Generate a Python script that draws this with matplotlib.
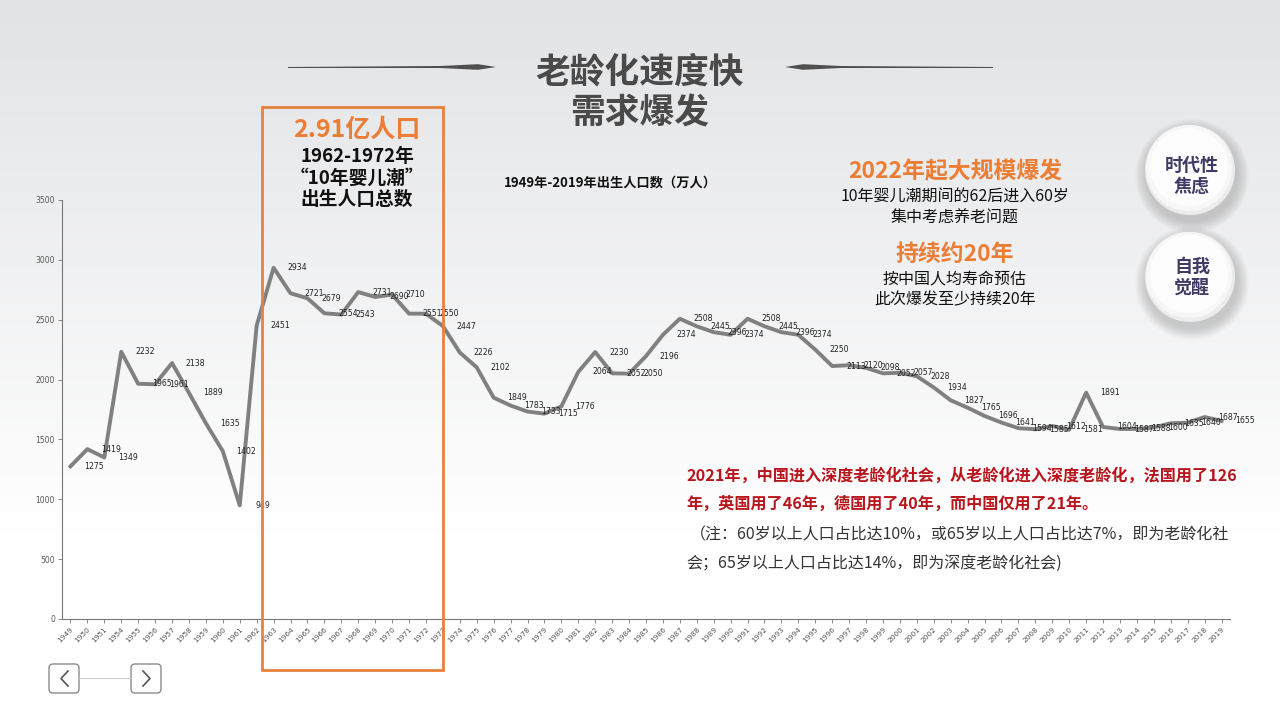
import numpy as np
import matplotlib
matplotlib.use("Agg")
import matplotlib.pyplot as plt
from matplotlib.patches import Rectangle, Circle, FancyBboxPatch, Polygon

plt.rcParams['font.family'] = ['Noto Sans CJK SC', 'DejaVu Sans']

# Births in China (10k persons)
years = [1949, 1950, 1951] + list(range(1954, 2020))
births = [1275, 1419, 1349, 2232, 1965, 1961, 2138, 1889, 1635, 1402,
          949, 2451, 2934, 2721, 2679, 2554, 2543, 2731, 2690, 2710,
          2551, 2550, 2447, 2226, 2102, 1849, 1783, 1733, 1715, 1776,
          2064, 2230, 2052, 2050, 2196, 2374, 2508, 2445, 2396, 2374,
          2508, 2445, 2396, 2374, 2250, 2113, 2120, 2098, 2052, 2057,
          2028, 1934, 1827, 1765, 1696, 1641, 1594, 1585, 1612, 1581,
          1891, 1604, 1587, 1588, 1600, 1635, 1640, 1687, 1655]
y_ticks = [0, 500, 1000, 1500, 2000, 2500, 3000, 3500]

W, H = 1280, 720
fig = plt.figure(figsize=(12.8, 7.2), dpi=100)

# background gradient
bg = fig.add_axes([0, 0, 1, 1], zorder=0)
grad = np.linspace(0, 1, 256)[:, None]
top = np.array([0.885, 0.89, 0.90])
bot = np.array([1.0, 1.0, 1.0])
t = np.clip(grad * 1.35, 0, 1)
img = top[None, None, :] * (1 - t[:, :, None]) + bot[None, None, :] * t[:, :, None]
bg.imshow(img, aspect='auto', extent=[0, 1, 0, 1], origin='upper')
bg.set_axis_off()

# main chart
x0, x1, ytop, ybot = 62, 1230, 200, 619
ax = fig.add_axes([x0 / W, (H - ybot) / H, (x1 - x0) / W, (ybot - ytop) / H], zorder=1)
ax.patch.set_alpha(0)
xs = np.arange(len(years))
ax.plot(xs, births, color='#808080', lw=2.8, solid_joinstyle='round', zorder=3)
for xi, v in zip(xs, births):
    ax.annotate(str(v), (xi, v), xytext=(17, 0), textcoords='offset points',
                ha='center', va='center', fontsize=5.6, color='#222222',
                family=['DejaVu Sans'])
ax.set_xlim(-0.5, len(years) - 0.5)
ax.set_ylim(0, 3500)
ax.set_yticks(y_ticks)
ax.set_yticklabels([str(v) for v in y_ticks], fontsize=5.5, color='#555555',
                   family=['DejaVu Sans'])
ax.set_xticks(xs)
ax.set_xticklabels([str(y) for y in years], fontsize=5.3, rotation=45, ha='right',
                   rotation_mode='anchor', color='#555555', family=['DejaVu Sans'])
ax.tick_params(axis='both', length=3, width=0.6, color='#777777', pad=2)
for s in ['top', 'right']:
    ax.spines[s].set_visible(False)
for s in ['left', 'bottom']:
    ax.spines[s].set_color('#777777')
    ax.spines[s].set_linewidth(0.8)

# overlay in pixel coordinates
ov = fig.add_axes([0, 0, 1, 1], zorder=2)
ov.set_xlim(0, W)
ov.set_ylim(H, 0)
ov.set_axis_off()
ov.patch.set_alpha(0)

# title with tapered rules
ov.text(640, 72, '老龄化速度快', ha='center', va='center', fontsize=25,
        fontweight='heavy', color='#4a4a4a')
ov.text(640, 113, '需求爆发', ha='center', va='center', fontsize=25,
        fontweight='heavy', color='#4a4a4a')
ov.add_patch(Polygon([[288, 67.0], [440, 66.0], [478, 64.2], [496, 67], [478, 69.8],
                      [440, 68.0], [288, 68.0]], closed=True, color='#4f4f4f', lw=0))
ov.add_patch(Polygon([[993, 67.0], [841, 66.0], [803, 64.2], [785, 67], [803, 69.8],
                      [841, 68.0], [993, 68.0]], closed=True, color='#4f4f4f', lw=0))

# highlight box
ov.add_patch(Rectangle((262, 107), 181, 563, fill=False, ec='#e8813e', lw=2))
ov.text(357, 130, '2.91亿人口', ha='center', va='center', fontsize=18,
        fontweight='bold', color='#ec7d34')
for yy, s in [(157, '1962-1972年'), (178, '“10年婴儿潮”'), (199, '出生人口总数')]:
    ov.text(357, yy, s, ha='center', va='center', fontsize=13.5,
            fontweight='bold', color='#111111')

ov.text(610, 183, '1949年-2019年出生人口数（万人）', ha='center', va='center',
        fontsize=9.5, fontweight='bold', color='#111111')

# right-side notes
ov.text(955, 172, '2022年起大规模爆发', ha='center', va='center', fontsize=16.5,
        fontweight='bold', color='#ec7d34')
ov.text(955, 197, '10年婴儿潮期间的62后进入60岁', ha='center', va='center',
        fontsize=11.5, color='#111111')
ov.text(955, 218, '集中考虑养老问题', ha='center', va='center', fontsize=11.5,
        color='#111111')
ov.text(955, 254, '持续约20年', ha='center', va='center', fontsize=16.5,
        fontweight='bold', color='#ec7d34')
ov.text(955, 280, '按中国人均寿命预估', ha='center', va='center', fontsize=11.5,
        color='#111111')
ov.text(955, 300, '此次爆发至少持续20年', ha='center', va='center', fontsize=11.5,
        color='#111111')

# round badges
for cy, ty, label in [(170, 176, '时代性\n焦虑'), (277, 277, '自我\n觉醒')]:
    cx, r = 1190, 45
    for k in range(12, 0, -1):
        ov.add_patch(Circle((cx + 2, cy + 6), r + k * 1.0, color='#7a7a7a',
                            alpha=0.03, lw=0))
    ov.add_patch(Circle((cx, cy), r, color='#ececec', lw=0))
    ov.add_patch(Circle((cx - 1, cy - 2), r - 2, color='#f7f7f7', lw=0))
    ov.add_patch(Circle((cx - 1, cy - 3), r - 6, color='#fdfdfd', lw=0))
    ov.text(cx + 2, ty, label, ha='center', va='center', fontsize=13,
            fontweight='bold', color='#3f3a66', linespacing=1.15)

# comparison notes
ov.text(686, 476, '2021年，中国进入深度老龄化社会，从老龄化进入深度老龄化，法国用了126',
        ha='left', va='center', fontsize=11.6, fontweight='bold', color='#b8141c')
ov.text(686, 504, '年，英国用了46年，德国用了40年，而中国仅用了21年。',
        ha='left', va='center', fontsize=11.6, fontweight='bold', color='#b8141c')
ov.text(690, 535, '（注：60岁以上人口占比达10%，或65岁以上人口占比达7%，即为老龄化社',
        ha='left', va='center', fontsize=11.5, color='#333333')
ov.text(686, 563, '会；65岁以上人口占比达14%，即为深度老龄化社会)',
        ha='left', va='center', fontsize=11.5, color='#333333')

# navigation buttons
ov.plot([79, 131], [678, 678], color='#cccccc', lw=0.8)
for bx, chev in [(49, [[68, 671], [61, 678.5], [68, 686]]),
                 (131, [[143, 671], [150, 678.5], [143, 686]])]:
    ov.add_patch(FancyBboxPatch((bx, 664), 30, 29, boxstyle='round,pad=0,rounding_size=4',
                                fc='#ffffff', ec='#8c8c8c', lw=1))
    ov.plot([p[0] for p in chev], [p[1] for p in chev], color='#555555', lw=1.2)

fig.savefig('out.png', dpi=100)
